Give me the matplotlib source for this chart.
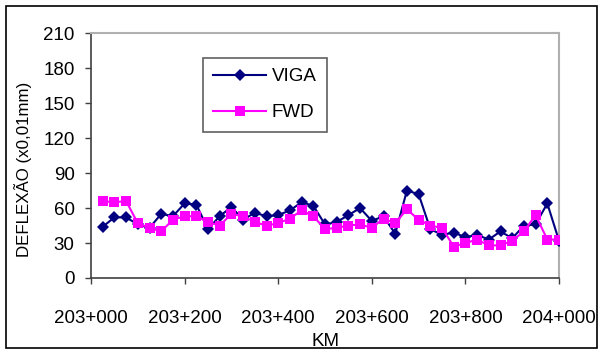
import matplotlib
matplotlib.use("Agg")
import matplotlib.pyplot as plt
from matplotlib.patches import Rectangle

plt.rcParams['font.family'] = ['Liberation Sans', 'DejaVu Sans']

# Stations (metres after km 203)
stations = [25, 50, 75, 100, 125, 150, 175, 200, 225, 250,
            275, 300, 325, 350, 375, 400, 425, 450, 475, 500,
            525, 550, 575, 600, 625, 650, 675, 700, 725, 750,
            775, 800, 825, 850, 875, 900, 925, 950, 975, 1000]

viga = [44, 52, 52, 46, 43, 55, 53, 64, 63, 42,
        53, 61, 50, 56, 53, 54, 58, 65, 62, 46,
        48, 54, 60, 49, 53, 38, 75, 72, 42, 37,
        39, 35, 37, 33, 40, 34, 45, 46, 64, 32]

fwd = [66, 65, 66, 47, 43, 40, 50, 53, 53, 48,
       45, 55, 53, 48, 45, 47, 51, 58, 53, 42,
       43, 45, 46, 43, 51, 47, 59, 50, 45, 43,
       27, 30, 33, 28, 28, 32, 40, 54, 33, 33]

x_ticks = [0, 200, 400, 600, 800, 1000]
x_tick_labels = ["203+000", "203+200", "203+400", "203+600", "203+800", "204+000"]
y_ticks = [0, 30, 60, 90, 120, 150, 180, 210]

W, H = 599, 349
fig = plt.figure(figsize=(W / 100, H / 100), dpi=100)
ax = fig.add_axes([91 / W, 1 - 278 / H, (559 - 91) / W, (278 - 33.3) / H])

ax.plot(stations, viga, color="#000080", lw=1.5, marker="D", ms=6.4,
        mec="#000080", mew=0, label="VIGA", zorder=3)
ax.plot(stations, fwd, color="#FF00FF", lw=1.5, marker="s", ms=7.4,
        mec="#FF00FF", mew=0, label="FWD", zorder=4)

ax.set_xlim(0, 1000)
ax.set_ylim(0, 210)
ax.set_xticks(x_ticks)
ax.set_xticklabels(x_tick_labels)
ax.set_yticks(y_ticks)

fs = 13.5
ax.tick_params(axis="x", direction="out", length=4.3, width=1, color="#404040",
               labelsize=fs, pad=18.5)
ax.tick_params(axis="y", direction="out", length=4.3, width=1, color="#404040",
               labelsize=fs, pad=7.5)

for side in ["left", "bottom"]:
    ax.spines[side].set_color("#404040")
    ax.spines[side].set_linewidth(1.2)
for side in ["top", "right"]:
    ax.spines[side].set_color("#B0B0B0")
    ax.spines[side].set_linewidth(1.5)

fig.text(325 / W, 1 - 341 / H, "KM", ha="center", va="center", fontsize=fs)
fig.text(23 / W, 1 - 169 / H, "DEFLEXÃO (x0,01mm)", rotation=90,
         ha="center", va="center", fontsize=12.2)

leg = ax.legend(loc="upper left", bbox_to_anchor=(203 / W, 1 - 58 / H),
                bbox_transform=fig.transFigure, fontsize=fs, frameon=True,
                fancybox=False, edgecolor="#606060", framealpha=1,
                handlelength=2.8, handletextpad=0.3, labelspacing=1.0,
                borderpad=0.55, borderaxespad=0)
leg.get_frame().set_linewidth(1.2)

fig.patches.append(Rectangle((5.5 / W, 1.5 / H), (597 - 5.5) / W, (343 - 1.5) / H,
                             transform=fig.transFigure, fill=False,
                             edgecolor="black", lw=1.2))

fig.savefig("out.png", dpi=100)
